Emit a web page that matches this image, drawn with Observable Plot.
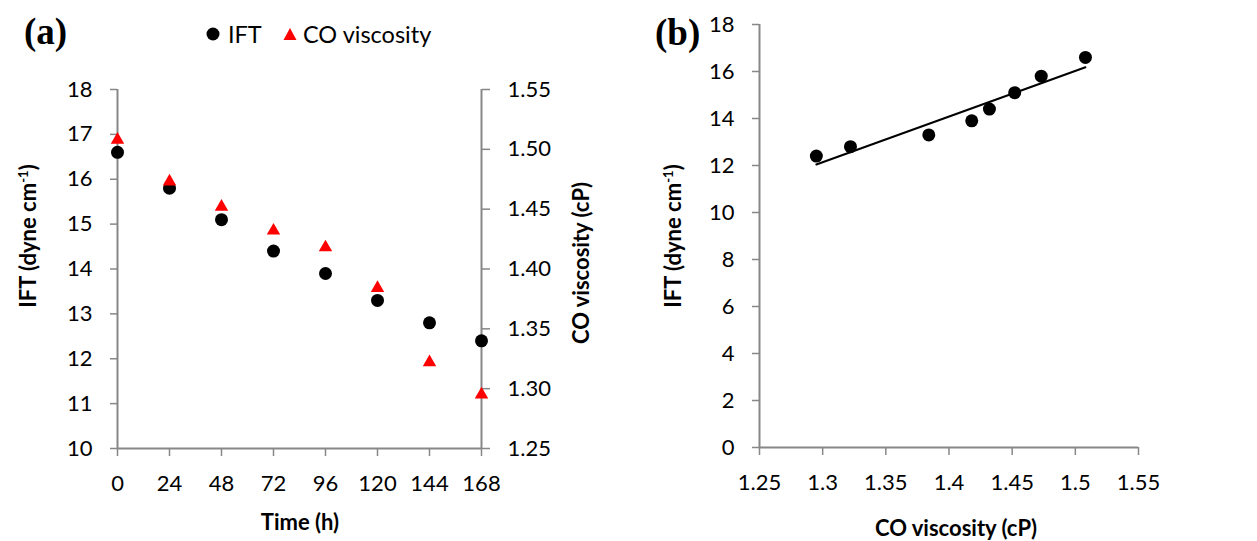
<!DOCTYPE html>
<html>
<head>
<meta charset="utf-8">
<script src="https://cdn.jsdelivr.net/npm/d3@7"></script>
<script src="https://cdn.jsdelivr.net/npm/@observablehq/plot@0.6"></script>
<style>
  body { margin: 0; background: #fff; }
  #wrap { position: relative; width: 1257px; height: 541px; overflow: hidden; font-family: Lato, "Open Sans", sans-serif; color: #000; }
  .abs { position: absolute; white-space: nowrap; line-height: 1; }
  .panel { position: absolute; top: 0; }
  .t { font-weight: bold; font-size: 22px; }
  .lab { font-family: "Liberation Serif", "Times New Roman", serif; font-weight: bold; font-size: 37px; }
  .rot { transform: translate(-50%, -50%) rotate(-90deg); }
  .ctr { transform: translate(-50%, -50%); }
  .leg { font-size: 23.5px; transform: translateY(-50%); }
  sup { font-size: 0.6em; vertical-align: 0.6em; line-height: 0; }
</style>
</head>
<body>
<div id="wrap">
  <div id="pa" class="panel" style="left:0px"></div>
  <div id="pa2" class="panel" style="left:0px"></div>
  <div id="pb" class="panel" style="left:630px"></div>

  <div class="abs lab" style="left:24px;top:13px">(a)</div>
  <div class="abs lab" style="left:655px;top:14px">(b)</div>

  <svg class="abs" style="left:206px;top:27px" width="14" height="14"><circle cx="7" cy="7" r="6.5" fill="#000"/></svg>
  <div class="abs leg" style="left:228px;top:35px">IFT</div>
  <svg class="abs" style="left:283px;top:27px" width="14" height="14"><polygon points="7,1 13.5,13 0.5,13" fill="#ff0000"/></svg>
  <div class="abs leg" style="left:303px;top:35px">CO viscosity</div>

  <div class="abs t rot" style="left:28px;top:236px">IFT (dyne cm<sup>-1</sup>)</div>
  <div class="abs t rot" style="left:581px;top:263px">CO viscosity (cP)</div>
  <div class="abs t ctr" style="left:300px;top:522px">Time (h)</div>

  <div class="abs t rot" style="left:673px;top:236px">IFT (dyne cm<sup>-1</sup>)</div>
  <div class="abs t ctr" style="left:956px;top:528px">CO viscosity (cP)</div>
</div>
<script>
// ---- data ----
const time = [0, 24, 48, 72, 96, 120, 144, 168];
const ift = [16.6, 15.8, 15.1, 14.4, 13.9, 13.3, 12.8, 12.4];
const viscosity = [1.508, 1.473, 1.452, 1.432, 1.418, 1.384, 1.322, 1.295];

const timeTicks = [0, 24, 48, 72, 96, 120, 144, 168];
const iftTicksA = [10, 11, 12, 13, 14, 15, 16, 17, 18];
const viscTicks = [1.25, 1.30, 1.35, 1.40, 1.45, 1.50, 1.55];
const iftTicksB = [0, 2, 4, 6, 8, 10, 12, 14, 16, 18];

const rows = time.map((t, i) => ({time: t, ift: ift[i], visc: viscosity[i]}));

const gray = "#878787";
const style = {fontFamily: "Lato, 'Open Sans', sans-serif", fontSize: "22px", color: "#000", background: "transparent", overflow: "visible"};

// ---- panel (a): IFT vs time (left axis) ----
const A = {width: 630, height: 541, marginLeft: 117, marginRight: 149, marginTop: 89, marginBottom: 93};

const pa = Plot.plot({
  ...A, style,
  x: {domain: [0, 168]},
  y: {domain: [10, 18]},
  marks: [
    Plot.ruleY([10], {stroke: gray, strokeWidth: 2}),
    Plot.ruleX([0, 168], {stroke: gray, strokeWidth: 2}),
    Plot.axisX(timeTicks, {tickSize: 8, tickPadding: 19, stroke: gray, strokeWidth: 1.5, fill: "#000", label: null}),
    Plot.axisY(iftTicksA, {tickSize: 7, tickPadding: 18, stroke: gray, strokeWidth: 1.5, fill: "#000", label: null}),
    Plot.dot(rows, {x: "time", y: "ift", r: 6.5, fill: "#000", stroke: "none"})
  ]
});
document.getElementById("pa").append(pa);

// ---- panel (a): CO viscosity vs time (right axis overlay) ----
const pa2 = Plot.plot({
  ...A, style,
  x: {domain: [0, 168], axis: null},
  y: {domain: [1.25, 1.55]},
  marks: [
    Plot.axisY(viscTicks, {anchor: "right", tickSize: 8, tickPadding: 18, stroke: gray, strokeWidth: 1.5, fill: "#000", label: null, tickFormat: d3.format(".2f")}),
    Plot.dot(rows, {x: "time", y: "visc", symbol: "triangle", r: 5, fill: "#ff0000", stroke: "none"})
  ]
});
document.getElementById("pa2").append(pa2);

// ---- panel (b): IFT vs CO viscosity ----
const pb = Plot.plot({
  width: 627, height: 541, marginLeft: 129, marginRight: 119, marginTop: 24, marginBottom: 94,
  style,
  x: {domain: [1.25, 1.55]},
  y: {domain: [0, 18]},
  marks: [
    Plot.ruleY([0], {stroke: gray, strokeWidth: 2}),
    Plot.ruleX([1.25], {stroke: gray, strokeWidth: 2}),
    Plot.axisX(viscTicks, {tickSize: 8, tickPadding: 19, stroke: gray, strokeWidth: 1.5, fill: "#000", label: null, tickFormat: d => String(+d.toFixed(2))}),
    Plot.axisY(iftTicksB, {tickSize: 7, tickPadding: 18, stroke: gray, strokeWidth: 1.5, fill: "#000", label: null}),
    Plot.linearRegressionY(rows, {x: "visc", y: "ift", ci: 0, stroke: "#000", strokeWidth: 2}),
    Plot.dot(rows, {x: "visc", y: "ift", r: 6.5, fill: "#000", stroke: "none"})
  ]
});
document.getElementById("pb").append(pb);
</script>
</body>
</html>
